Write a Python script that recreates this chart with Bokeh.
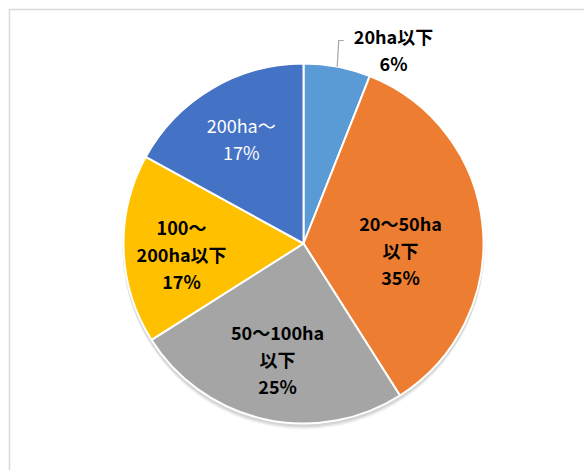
import math
from bokeh.plotting import figure
from bokeh.models import Range1d, ColumnDataSource
from bokeh.core.properties import value
from bokeh.embed import file_html
from bokeh.resources import INLINE

# ---- data ----
categories = ["20ha以下", "20～50ha以下", "50～100ha以下", "100～200ha以下", "200ha～"]
label_lines = [["20ha以下", "6%"], ["20～50ha", "以下", "35%"], ["50～100ha", "以下", "25%"],
               ["100～", "200ha以下", "17%"], ["200ha～", "17%"]]
shares = [6, 35, 25, 17, 17]
colors = ["#5B9BD5", "#ED7D31", "#A5A5A5", "#FFC000", "#4472C4"]
text_colors = ["#000000", "#000000", "#000000", "#000000", "#FFFFFF"]
text_styles = ["bold", "bold", "bold", "bold", "normal"]

# ---- layout (pixel units, y measured downward, converted) ----
W, H = 584, 470
CX, CY, R = 303, 243, 180
FONT = "Noto Sans CJK JP"
FS = "18px"
LINE_GAP = 27
# label placement: radius fraction & angle adjust (deg) per slice
label_r = [None, 0.54, 0.66, 0.68, 0.68]
label_da = [0, 9, 0, -3, 0]

def Y(ypix):
    return H - ypix

p = figure(width=W, height=H, x_range=Range1d(0, W), y_range=Range1d(0, H),
           output_backend="svg", toolbar_location=None, min_border=0)
p.axis.visible = False
p.grid.visible = False
p.outline_line_color = None
p.background_fill_color = "white"
p.border_fill_color = "white"

# chart-area frame
p.quad(left=[9], right=[W + 50], top=[Y(9)], bottom=[-50], fill_color=None,
       line_color="#D9D9D9", line_width=1.5)

# soft shadow
for off, a in [(5, 0.06), (4, 0.08), (3, 0.10), (2, 0.12)]:
    p.circle(x=[CX], y=[Y(CY + off)], radius=R + 1, fill_color="#7f7f7f",
             fill_alpha=a, line_color=None)

total = sum(shares)
cum = [0]
for s in shares:
    cum.append(cum[-1] + s)
start = [math.pi / 2 - cum[i] / total * 2 * math.pi for i in range(len(shares))]
end = [math.pi / 2 - cum[i + 1] / total * 2 * math.pi for i in range(len(shares))]
src = ColumnDataSource(dict(cat=categories, share=shares, start=start, end=end, color=colors))
p.wedge(x=CX, y=Y(CY), radius=R, start_angle="start", end_angle="end", direction="clock",
        fill_color="color", line_color="white", line_width=2, source=src)

# labels
for i, lines in enumerate(label_lines):
    mid = (cum[i] + cum[i + 1]) / 2 / total * 360 + label_da[i]
    if label_r[i] is None:
        # outside label with leader line
        ex = CX + R * math.sin(math.radians(mid))
        ey = CY - R * math.cos(math.radians(mid))
        p.line(x=[ex, ex + 1.5, ex + 6.5], y=[Y(ey), Y(40), Y(40)], line_color="#A6A6A6",
               line_width=1.2)
        lx, ly = 393, 48.5
    else:
        rr = R * label_r[i]
        lx = CX + rr * math.sin(math.radians(mid))
        ly = CY - rr * math.cos(math.radians(mid))
    n = len(lines)
    for k, t in enumerate(lines):
        yy = ly + (k - (n - 1) / 2) * LINE_GAP
        p.text(x=[lx], y=[Y(yy)], text=[t], text_font=value(FONT), text_font_size=FS,
               text_font_style=text_styles[i], text_color=text_colors[i], text_align="center",
               text_baseline="middle")

open("out.html", "w").write(file_html(p, INLINE))
